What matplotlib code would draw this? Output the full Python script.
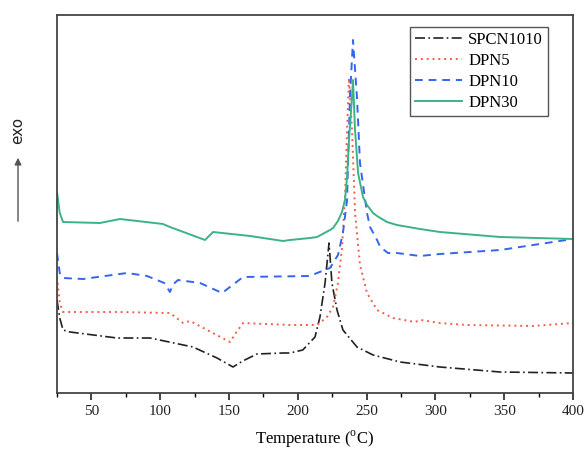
import numpy as np
import matplotlib
matplotlib.use('Agg')
import matplotlib.pyplot as plt
from matplotlib.ticker import MultipleLocator

plt.rcParams['font.family'] = ['Liberation Serif', 'DejaVu Serif']
plt.rcParams['mathtext.fontset'] = 'custom'
plt.rcParams['mathtext.rm'] = 'Liberation Serif'

# DSC curves (arbitrary heat-flow units, exo up)
t_spcn = [25, 27, 29.4, 34.4, 68.6, 92.6, 123.8, 141.3, 152.9, 160, 170.3, 189.2, 194.3,
          203.6, 212.5, 216.1, 219.8, 222.7, 224.8, 228.5, 232.8, 243, 254.7, 274.3,
          303.3, 347, 400]
y_spcn = [93, 75, 63, 61, 55, 55, 46, 35, 26, 32, 39, 40, 40,
          43, 56, 76, 110, 150, 110, 83, 63, 46, 38, 31,
          26, 21, 20]

t_dpn5 = [25, 27, 29.4, 68.6, 107.1, 116.6, 121.7, 150.7, 155, 160.2, 194.3, 214, 221.2,
          225.6, 229.2, 232.1, 234.3, 235.8, 237.2, 239.4, 241.6, 245.2, 250.3, 257.6,
          269.2, 285, 289.5, 303.3, 323, 371, 400]
y_dpn5 = [116, 90, 81, 81, 80, 70, 72, 51, 60, 70, 68, 68, 76,
          86, 110, 145, 196, 263, 315, 263, 180, 128, 100, 83,
          75, 71, 73, 70, 68, 67, 70]

t_dpn10 = [25, 27, 29.4, 43.9, 75.9, 90.4, 103, 107.1, 109, 112.9, 129, 145, 160.2, 208.9,
           214, 223.4, 229.2, 232.8, 235.8, 236.5, 237.9, 240.1, 243, 245.2, 250.3, 252.5,
           257.6, 259.9, 265.5, 272, 288.8, 303.3, 347, 400]
y_dpn10 = [140, 120, 115, 114, 120, 117, 110, 101, 108, 113, 110, 100, 116, 117,
           120, 125, 138, 160, 193, 230, 296, 353, 296, 230, 180, 166,
           153, 146, 140, 140, 137, 139, 143, 154]

t_dpn30 = [25, 27, 29.4, 56.2, 70.8, 102, 107.1, 132.6, 138.4, 165.3, 189.2, 194.3, 208.9,
           214, 223.4, 225.6, 229.2, 232.1, 234.3, 235.8, 237.2, 239.4, 240.1, 241.6, 243.8,
           247.4, 250.3, 254.7, 257.6, 264.8, 272, 288.8, 303.3, 347, 400]
y_dpn30 = [201, 180, 171, 170, 174, 169, 166, 153, 161, 157, 152, 153, 155,
           156, 163, 165, 172, 181, 193, 216, 253, 296, 313, 263, 220,
           196, 188, 180, 177, 171, 168, 164, 161, 156, 154]

labels = ['SPCN1010', 'DPN5', 'DPN10', 'DPN30']

fig = plt.figure(figsize=(5.84, 4.53), dpi=100)
ax = fig.add_axes([57 / 584, 1 - 393 / 453, 516 / 584, 378 / 453])

ax.plot(t_spcn, y_spcn, color='#222222', ls=(0, (6, 2, 1, 2)), lw=1.2, label=labels[0])
ax.plot(t_dpn5, y_dpn5, color='#f25c4c', ls=(0, (1, 2)), lw=1.4, label=labels[1])
ax.plot(t_dpn10, y_dpn10, color='#3366ee', ls=(0, (4, 3)), lw=1.4, label=labels[2])
ax.plot(t_dpn30, y_dpn30, color='#3cb386', ls='-', lw=1.4, label=labels[3])

ax.set_xlim(25, 400)
ax.set_ylim(0, 378)
ax.xaxis.set_major_locator(MultipleLocator(50))
ax.xaxis.set_minor_locator(MultipleLocator(25))
ax.tick_params(axis='x', which='major', direction='out', length=5, width=1.2,
               labelsize=11, colors='#222222')
ax.tick_params(axis='x', which='minor', direction='out', length=3, width=1.0)
ax.set_yticks([])
for s in ax.spines.values():
    s.set_linewidth(1.3)
    s.set_color('#444444')

ax.set_xlabel(r'Temperature ($^{\mathrm{o}}$C)', fontsize=12, labelpad=8)

leg = ax.legend(loc='upper left', bbox_to_anchor=(410 / 584, 1 - 27 / 453),
                bbox_transform=fig.transFigure, fontsize=12, handlelength=2.8,
                fancybox=False, framealpha=1, borderpad=0.3, labelspacing=0.3,
                handletextpad=0.4, borderaxespad=0)
leg.get_frame().set_edgecolor('#555555')
leg.get_frame().set_linewidth(1.0)

# exo arrow on the left
fig.text(18 / 584, 1 - 130 / 453, 'exo', rotation=90, ha='center', va='center',
         fontsize=11, family='DejaVu Sans', color='#222222')
ax.annotate('', xy=(18 / 584, 1 - 155 / 453), xytext=(18 / 584, 1 - 224 / 453),
            xycoords='figure fraction', textcoords='figure fraction',
            arrowprops=dict(arrowstyle='-|>', color='#555555', lw=1.0, mutation_scale=10))

plt.savefig('out.png', dpi=100)
